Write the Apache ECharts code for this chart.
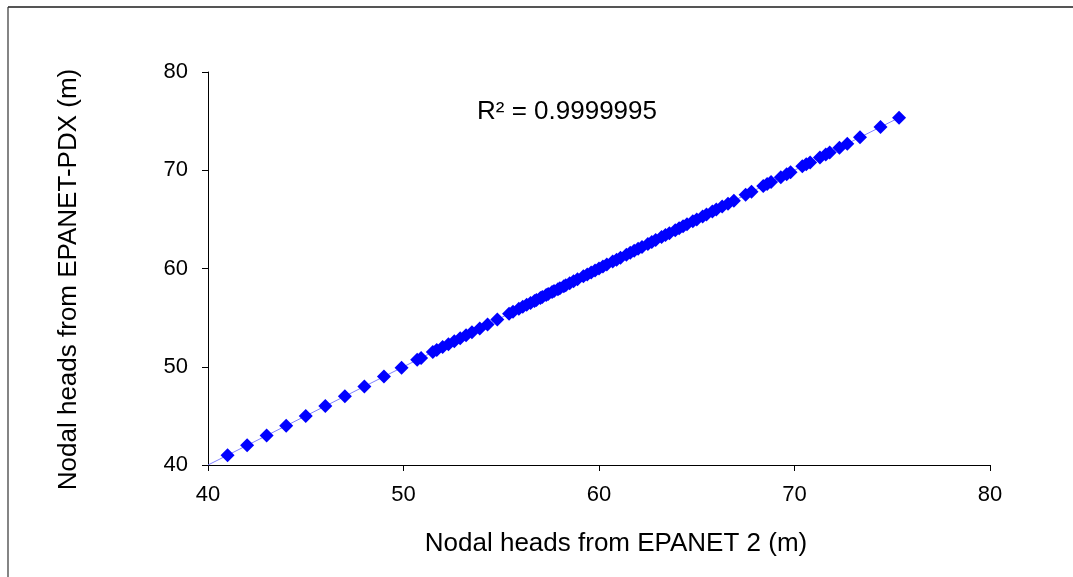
<!DOCTYPE html>
<html>
<head>
<meta charset="utf-8">
<script src="https://cdn.jsdelivr.net/npm/echarts@6/dist/echarts.min.js"></script>
<style>
html,body{margin:0;padding:0;background:#fff;}
#chart{width:1073px;height:577px;}
</style>
</head>
<body>
<div id="chart"></div>
<script>
// Nodal heads from EPANET 2 (m)
const headsEpanet2 = [41.0, 42.0, 43.0, 44.0, 45.0, 46.0, 47.0, 48.0, 49.0, 49.9, 50.7, 50.9,
  51.5, 51.7, 52.0, 52.3, 52.6, 52.9, 53.2, 53.5, 53.9, 54.3, 54.8, 55.4, 55.6, 55.9,
  56.1, 56.3, 56.5, 56.7, 56.8, 57.0, 57.1, 57.3, 57.4, 57.6, 57.7, 57.9, 58.0, 58.2,
  58.3, 58.5, 58.7, 58.9, 59.2, 59.4, 59.6, 59.8, 60.0, 60.2, 60.4, 60.7, 60.9, 61.1,
  61.4, 61.6, 61.8, 62.0, 62.2, 62.5, 62.7, 62.9, 63.2, 63.4, 63.6, 63.9, 64.1, 64.3,
  64.5, 64.8, 65.0, 65.3, 65.5, 65.8, 66.0, 66.3, 66.6, 66.9, 67.5, 67.8, 68.4, 68.6,
  68.8, 69.3, 69.6, 69.8, 70.4, 70.6, 70.8, 71.3, 71.6, 71.8, 72.3, 72.7, 73.35, 74.4, 75.35];
// Nodal heads from EPANET-PDX (m)
const headsPdx = [41.0, 42.0, 43.0, 44.0, 45.0, 46.0, 47.0, 48.0, 49.0, 49.9, 50.7, 50.9,
  51.5, 51.7, 52.0, 52.3, 52.6, 52.9, 53.2, 53.5, 53.9, 54.3, 54.8, 55.4, 55.6, 55.9,
  56.1, 56.3, 56.5, 56.7, 56.8, 57.0, 57.1, 57.3, 57.4, 57.6, 57.7, 57.9, 58.0, 58.2,
  58.3, 58.5, 58.7, 58.9, 59.2, 59.4, 59.6, 59.8, 60.0, 60.2, 60.4, 60.7, 60.9, 61.1,
  61.4, 61.6, 61.8, 62.0, 62.2, 62.5, 62.7, 62.9, 63.2, 63.4, 63.6, 63.9, 64.1, 64.3,
  64.5, 64.8, 65.0, 65.3, 65.5, 65.8, 66.0, 66.3, 66.6, 66.9, 67.5, 67.8, 68.4, 68.6,
  68.8, 69.3, 69.6, 69.8, 70.4, 70.6, 70.8, 71.3, 71.6, 71.8, 72.3, 72.7, 73.35, 74.4, 75.35];
// Linear trendline end points
const trendX = [40, 75.35];
const trendY = [40, 75.35];
const ticks = [40, 50, 60, 70, 80];
const r2Label = 'R² = 0.9999995';

const points = headsEpanet2.map((x, i) => [x, headsPdx[i]]);
const trend = trendX.map((x, i) => [x, trendY[i]]);

const chart = echarts.init(document.getElementById('chart'), null, {renderer: 'canvas'});
const font = 'Liberation Sans, Arial, Helvetica, sans-serif';
const axisCommon = {
  type: 'value',
  min: ticks[0], max: ticks[ticks.length - 1], interval: 10,
  splitLine: {show: false},
  axisLine: {show: true, lineStyle: {color: '#000', width: 1}},
  axisTick: {show: true, inside: false, length: 6, lineStyle: {color: '#000'}},
  nameLocation: 'middle',
  axisLabel: {fontFamily: font, fontSize: 22, color: '#000'}
};
chart.setOption({
  animation: false,
  backgroundColor: '#fff',
  grid: {left: 208, right: 83, top: 72, bottom: 112, containLabel: false},
  xAxis: Object.assign({}, axisCommon, {
    name: 'Nodal heads from EPANET 2 (m)', nameGap: 66,
    nameTextStyle: {fontFamily: font, fontSize: 26, color: '#000', padding: [0, 0, 0, 34]},
    axisLabel: Object.assign({}, axisCommon.axisLabel, {margin: 19})
  }),
  yAxis: Object.assign({}, axisCommon, {
    name: 'Nodal heads from EPANET-PDX (m)', nameGap: 126,
    nameTextStyle: {fontFamily: font, fontSize: 26, color: '#000', padding: [0, 22, 0, 0]},
    axisLabel: Object.assign({}, axisCommon.axisLabel, {margin: 20})
  }),
  graphic: [
    {type: 'line', shape: {x1: 8, y1: 7, x2: 1073, y2: 7}, style: {stroke: '#555', lineWidth: 2}},
    {type: 'line', shape: {x1: 8, y1: 7, x2: 8, y2: 577}, style: {stroke: '#333', lineWidth: 1.2}},
    {type: 'text', left: 477, top: 99, style: {text: r2Label, fontFamily: font, fontSize: 26, fill: '#000'}}
  ],
  series: [
    {type: 'line', data: trend, symbol: 'none', lineStyle: {color: '#8080ff', width: 1}, z: 1, silent: true},
    {type: 'scatter', data: points, symbol: 'diamond', symbolSize: 14,
     itemStyle: {color: '#0000ff', opacity: 1}, z: 2}
  ]
});
</script>
</body>
</html>
